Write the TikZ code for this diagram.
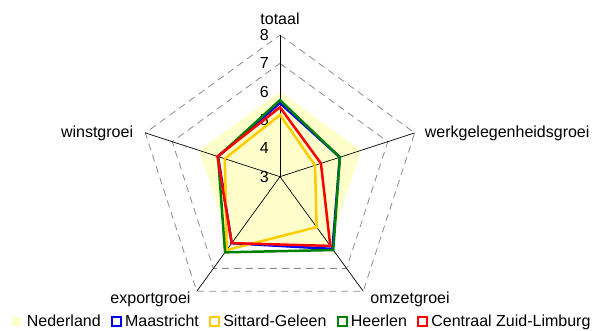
\documentclass[tikz,border=0pt]{standalone}
\usepackage{fontspec}
\setmainfont{Liberation Sans}
\usepackage{xcolor}
\usetikzlibrary{positioning}
\definecolor{nlyellow}{HTML}{FFFFCC}
\definecolor{mablue}{HTML}{0000FF}
\definecolor{sgyellow}{HTML}{FFCC00}
\definecolor{hegreen}{HTML}{008000}
\definecolor{czred}{HTML}{FF0000}

\begin{document}
\begin{tikzpicture}[x=1pt, y=1pt, inner sep=2pt, font=\fontsize{16}{19}\selectfont,
    grid/.style={black!45, line width=0.8pt, dash pattern=on 7pt off 5pt},
    series/.style={line width=2.5pt, line join=miter},
    legbox/.style={minimum size=9pt, inner sep=0pt, line width=2pt},
    legtxt/.style={inner sep=0pt, text height=12pt, text depth=2pt}]
    \useasboundingbox (0,0) rectangle (595,331);
    \begin{scope}[shift={(280,154.3)}]
    % Grid
    \foreach \lv in {7,8}
        \draw[grid] (90:{(\lv-3)*28.33}) \foreach \k in {1,...,4} { -- ({90-72*\k}:{(\lv-3)*28.33}) } -- cycle;
    % Nederland
    \fill[nlyellow] (90:85) \foreach \k in {1,...,4} { -- ({90-72*\k}:85) } -- cycle;
    % Axes
    \coordinate (O) at (0,0);
    \coordinate (T) at (90:141.65);
    \coordinate (W) at (18:141.65);
    \coordinate (Om) at (-54:141.65);
    \coordinate (E) at (-126:141.65);
    \coordinate (Wi) at (162:141.65);
    \foreach \a in {T,W,Om,E,Wi}
        \draw[line width=0.7pt] (O) -- (\a);
    \node[above=8pt of T] (Tl) {totaal};
    \node[right=8pt of W] (Wl) {werkgelegenheidsgroei};
    \node[below right=-2pt and 5pt of Om] (Oml) {omzetgroei};
    \node[below left=-2pt and 4pt of E] (El) {exportgroei};
    \node[left=10pt of Wi] (Wil) {winstgroei};
    % Scale
    \foreach \sv in {3,...,8}
        \node[anchor=east] (s\sv) at (-9,{(\sv-3)*28.33}) {\sv};
    % Series
    \foreach \cl/\vt/\vw/\vo/\ve/\vs in {mablue/5.6/5.22/6.15/5.9/5.3,
                                          sgyellow/5.18/4.3/5.2/6.2/5.05,
                                          hegreen/5.7/5.22/6.2/6.3/5.3,
                                          czred/5.45/4.52/6.02/5.9/5.32}
        \draw[series, \cl] (90:{(\vt-3)*28.33}) -- (18:{(\vw-3)*28.33})
            -- (-54:{(\vo-3)*28.33}) -- (-126:{(\ve-3)*28.33})
            -- (162:{(\vs-3)*28.33}) -- cycle;
    \end{scope}
    % Legend
    \node[legbox, fill=nlyellow] (L1) at (16.2,9.3) {};
    \node[legtxt, right=5pt of L1] (N1) {Nederland};
    \node[legbox, draw=mablue, right=10pt of N1] (L2) {};
    \node[legtxt, right=3pt of L2] (N2) {Maastricht};
    \node[legbox, draw=sgyellow, right=10pt of N2] (L3) {};
    \node[legtxt, right=3pt of L3] (N3) {Sittard-Geleen};
    \node[legbox, draw=hegreen, right=10pt of N3] (L4) {};
    \node[legtxt, right=3pt of L4] (N4) {Heerlen};
    \node[legbox, draw=czred, right=10pt of N4] (L5) {};
    \node[legtxt, right=3pt of L5] (N5) {Centraal Zuid-Limburg};
\end{tikzpicture}
\end{document}
